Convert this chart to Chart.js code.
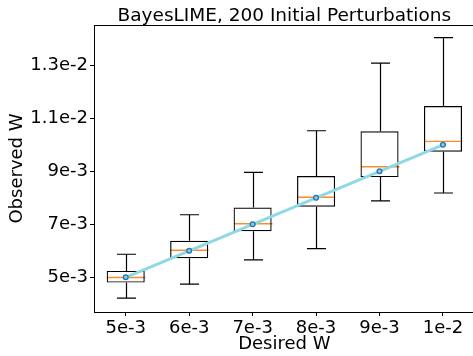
<!DOCTYPE html>
<html>
<head>
<meta charset="utf-8">
<script src="https://cdn.jsdelivr.net/npm/chart.js"></script>
<style>
  html, body { margin: 0; padding: 0; background: #fff; }
  #wrap { width: 473px; height: 356px; overflow: hidden; }
</style>
</head>
<body>
<div id="wrap"><canvas id="myChart" width="480" height="356"></canvas></div>
<script>
// categories (desired W) and the box statistics
const categories = ['5e-3', '6e-3', '7e-3', '8e-3', '9e-3', '1e-2'];
const desiredW = [0.005, 0.006, 0.007, 0.008, 0.009, 0.010];
const whiskerLow = [0.00421, 0.00474, 0.00566, 0.00608, 0.00788, 0.00818];
const q1 = [0.00480, 0.00572, 0.00674, 0.00766, 0.00878, 0.00974];
const median = [0.00499, 0.00602, 0.00702, 0.00802, 0.00917, 0.01013];
const q3 = [0.00524, 0.00638, 0.00763, 0.00882, 0.01051, 0.01146];
const whiskerHigh = [0.00587, 0.00736, 0.00896, 0.01053, 0.01308, 0.01404];

// y axis ticks
const yTickValues = [0.005, 0.007, 0.009, 0.011, 0.013];
const yTickLabels = ['5e-3', '7e-3', '9e-3', '1.1e-2', '1.3e-2'];

const FONT = 'DejaVu Sans';

// whiskers, caps and medians, drawn with the chart's own scales
const boxExtras = {
  id: 'boxExtras',
  beforeDatasetsDraw(chart) {
    const ctx = chart.ctx;
    const x = chart.scales.x, y = chart.scales.y;
    const capHalf = x.width / categories.length * 0.15;
    const boxHalf = x.width / categories.length * 0.30;
    ctx.save();
    categories.forEach((c, i) => {
      const cx = Math.round(x.getPixelForValue(i)) + 0.5;
      ctx.strokeStyle = '#000';
      ctx.lineWidth = 1.2;
      ctx.beginPath();
      ctx.moveTo(cx, y.getPixelForValue(q3[i]));
      ctx.lineTo(cx, y.getPixelForValue(whiskerHigh[i]));
      ctx.moveTo(cx, y.getPixelForValue(q1[i]));
      ctx.lineTo(cx, y.getPixelForValue(whiskerLow[i]));
      ctx.moveTo(cx - capHalf, y.getPixelForValue(whiskerHigh[i]));
      ctx.lineTo(cx + capHalf, y.getPixelForValue(whiskerHigh[i]));
      ctx.moveTo(cx - capHalf, y.getPixelForValue(whiskerLow[i]));
      ctx.lineTo(cx + capHalf, y.getPixelForValue(whiskerLow[i]));
      ctx.stroke();
      ctx.strokeStyle = '#ff8c2a';
      ctx.lineWidth = 1.4;
      ctx.beginPath();
      ctx.moveTo(cx - boxHalf, y.getPixelForValue(median[i]));
      ctx.lineTo(cx + boxHalf, y.getPixelForValue(median[i]));
      ctx.stroke();
    });
    ctx.restore();
  },
  afterDraw(chart) {
    const ctx = chart.ctx;
    const a = chart.chartArea;
    ctx.save();
    ctx.strokeStyle = '#000';
    ctx.lineWidth = 1;
    ctx.strokeRect(Math.round(a.left) + 0.5, Math.round(a.top) + 0.5, a.right - a.left, a.bottom - a.top);
    ctx.fillStyle = '#000';
    ctx.font = '18.5px "' + FONT + '"';
    ctx.textAlign = 'center';
    ctx.textBaseline = 'alphabetic';
    ctx.fillText('BayesLIME, 200 Initial Perturbations', (a.left + a.right) / 2, 21);
    ctx.restore();
  }
};

const ctx = document.getElementById('myChart').getContext('2d');
const myChart = new Chart(ctx, {
  type: 'bar',
  data: {
    labels: categories,
    datasets: [
      {
        type: 'line',
        data: desiredW,
        borderColor: '#8ed9e4',
        borderWidth: 3,
        pointRadius: 2.4,
        pointBorderWidth: 1.3,
        pointBorderColor: '#1f77b4',
        pointBackgroundColor: '#8cc4e4',
        tension: 0,
        order: 0
      },
      {
        data: categories.map((c, i) => [q1[i], q3[i]]),
        backgroundColor: 'rgba(0,0,0,0)',
        borderColor: '#000',
        borderWidth: 1.2,
        borderSkipped: false,
        categoryPercentage: 1,
        barPercentage: 0.6,
        order: 1
      }
    ]
  },
  options: {
    responsive: false,
    animation: false,
    devicePixelRatio: 1,
    layout: { padding: { top: 25, left: 0, right: 5, bottom: 0 } },
    plugins: { legend: { display: false }, title: { display: false }, tooltip: { enabled: false } },
    scales: {
      x: {
        offset: true,
        grid: { display: true, offset: false, drawOnChartArea: false, drawTicks: true, tickLength: 4, color: '#000' },
        border: { display: true, color: '#000', width: 1 },
        ticks: { color: '#000', font: { family: FONT, size: 18 }, padding: 2, maxRotation: 0 },
        title: { display: true, text: 'Desired W', color: '#000', font: { family: FONT, size: 18 }, padding: { top: 0, bottom: 1 } },
        afterFit(scale) { scale.height = 44; }
      },
      y: {
        min: 0.00369,
        max: 0.01452,
        afterBuildTicks(scale) { scale.ticks = yTickValues.map(v => ({ value: v })); },
        grid: { display: true, drawOnChartArea: false, drawTicks: true, tickLength: 4, color: '#000' },
        border: { display: true, color: '#000', width: 1 },
        ticks: {
          color: '#000', font: { family: FONT, size: 18 }, padding: 2,
          callback: (v, i) => yTickLabels[i]
        },
        title: { display: true, text: 'Observed W', color: '#000', font: { family: FONT, size: 18 }, padding: { top: 7, bottom: 0 } },
        afterFit(scale) { scale.width = 94; }
      }
    }
  },
  plugins: [boxExtras]
});
</script>
</body>
</html>
